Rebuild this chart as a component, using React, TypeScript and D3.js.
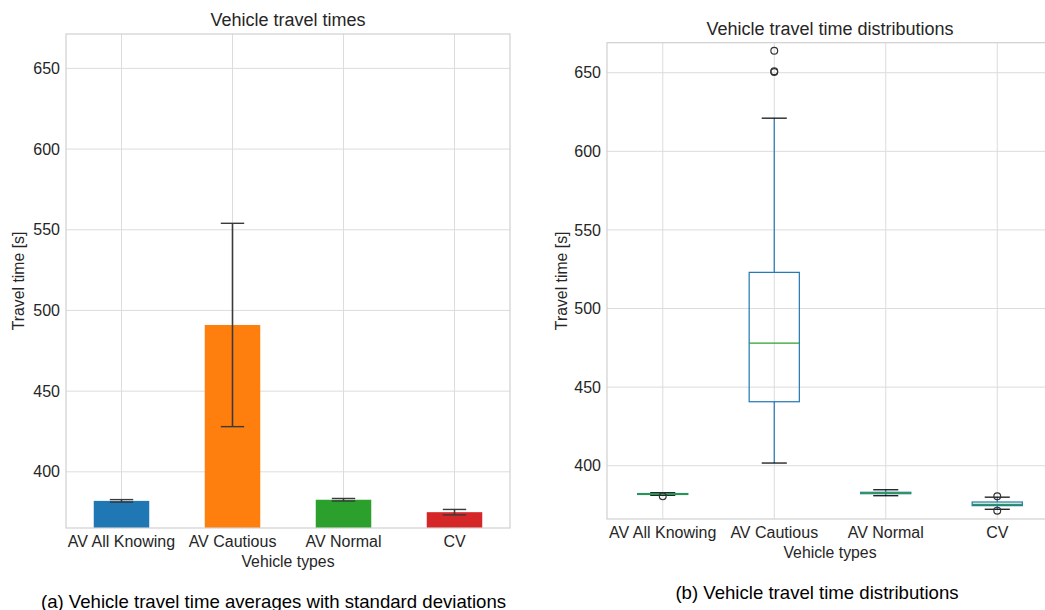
import React from 'react';
import * as d3 from 'd3';

// categories and values
const categories = ['AV All Knowing', 'AV Cautious', 'AV Normal', 'CV'];
const meanTimes = [382.0, 491.0, 382.7, 375.0];
const stdTimes = [0.8, 63.0, 0.8, 1.7];

// box plot summaries per category
const whiskerLow = [381.2, 401.7, 380.9, 372.3];
const q1 = [381.7, 440.7, 382.2, 374.6];
const medians = [382.0, 478.0, 382.6, 375.4];
const q3 = [382.3, 523.0, 383.1, 376.9];
const whiskerHigh = [382.8, 621.1, 384.7, 380.0];
const flierCat = [0, 1, 1, 1, 3, 3];
const flierVal = [380.5, 650.5, 651.0, 664.0, 380.6, 371.4];

const yTicks = [400, 450, 500, 550, 600, 650];
const barColors = ['#1f77b4', '#ff7f0e', '#2ca02c', '#d62728'];

const FONT = '"Liberation Sans", Arial, sans-serif';
const TXT = '#262626';
const GRID = '#dcdcdc';
const TICK_FS = 16;

function Frame({ x, y, left, right, top, bottom, title, tickX }) {
  return (
    <g>
      {yTicks.map(t => (
        <line key={'h' + t} x1={left} x2={right} y1={y(t)} y2={y(t)} stroke={GRID} strokeWidth={1} />
      ))}
      {categories.map(c => (
        <line key={'v' + c} x1={x(c) + x.bandwidth() / 2} x2={x(c) + x.bandwidth() / 2} y1={top} y2={bottom} stroke={GRID} strokeWidth={1} />
      ))}
      <text x={(left + right) / 2} y={top - 8} textAnchor="middle" fontSize={18} fill={TXT} fontFamily={FONT}>{title}</text>
      {yTicks.map(t => (
        <text key={'yl' + t} x={left - 6} y={y(t)} dy="0.35em" textAnchor="end" fontSize={TICK_FS} fill={TXT} fontFamily={FONT}>{t}</text>
      ))}
      {categories.map(c => (
        <text key={'xl' + c} x={x(c) + x.bandwidth() / 2} y={bottom + 18.5} textAnchor="middle" fontSize={TICK_FS} fill={TXT} fontFamily={FONT}>{c}</text>
      ))}
      <text x={tickX} y={bottom + 38.5} textAnchor="middle" fontSize={15.8} fill={TXT} fontFamily={FONT}>Vehicle types</text>
    </g>
  );
}

function BarPanel() {
  const left = 66, right = 510, top = 34, bottom = 528;
  const x = d3.scaleBand().domain(categories).range([left, right]).padding(0);
  const y = d3.scaleLinear().domain([365.2, 671.3]).range([bottom, top]);
  const bw = x.bandwidth() * 0.5;
  const cap = 11.7;
  return (
    <g>
      <Frame x={x} y={y} left={left} right={right} top={top} bottom={bottom} title="Vehicle travel times" tickX={(left + right) / 2} />
      {categories.map((c, i) => {
        const cx = x(c) + x.bandwidth() / 2;
        return (
          <g key={c}>
            <rect x={cx - bw / 2} y={y(meanTimes[i])} width={bw} height={bottom - y(meanTimes[i])} fill={barColors[i]} />
            <line x1={cx} x2={cx} y1={y(meanTimes[i] + stdTimes[i])} y2={y(meanTimes[i] - stdTimes[i])} stroke="#3a3a3a" strokeWidth={1.6} />
            <line x1={cx - cap} x2={cx + cap} y1={y(meanTimes[i] + stdTimes[i])} y2={y(meanTimes[i] + stdTimes[i])} stroke="#3a3a3a" strokeWidth={1.4} />
            <line x1={cx - cap} x2={cx + cap} y1={y(meanTimes[i] - stdTimes[i])} y2={y(meanTimes[i] - stdTimes[i])} stroke="#3a3a3a" strokeWidth={1.4} />
          </g>
        );
      })}
      <rect x={left} y={top} width={right - left} height={bottom - top} fill="none" stroke="#d0d0d0" strokeWidth={1.2} />
      <text transform={`translate(${24},${(top + bottom) / 2}) rotate(-90)`} textAnchor="middle" fontSize={15.8} fill={TXT} fontFamily={FONT}>Travel time [s]</text>
    </g>
  );
}

function BoxPanel() {
  const left = 607, right = 1053, top = 42.7, bottom = 519;
  const x = d3.scaleBand().domain(categories).range([left, right]).padding(0);
  const y = d3.scaleLinear().domain([366.1, 669.1]).range([bottom, top]);
  const bw = x.bandwidth() * 0.45;
  const cap = bw / 4;
  const blue = '#1f77b4';
  return (
    <g>
      <Frame x={x} y={y} left={left} right={right} top={top} bottom={bottom} title="Vehicle travel time distributions" tickX={(left + right) / 2} />
      {categories.map((c, i) => {
        const cx = x(c) + x.bandwidth() / 2;
        return (
          <g key={c}>
            <line x1={cx} x2={cx} y1={y(whiskerLow[i])} y2={y(q1[i])} stroke={blue} strokeWidth={1.2} />
            <line x1={cx} x2={cx} y1={y(q3[i])} y2={y(whiskerHigh[i])} stroke={blue} strokeWidth={1.2} />
            <line x1={cx - cap} x2={cx + cap} y1={y(whiskerLow[i])} y2={y(whiskerLow[i])} stroke="#000" strokeWidth={1.2} />
            <line x1={cx - cap} x2={cx + cap} y1={y(whiskerHigh[i])} y2={y(whiskerHigh[i])} stroke="#000" strokeWidth={1.2} />
            <rect x={cx - bw / 2} y={y(q3[i])} width={bw} height={Math.max(y(q1[i]) - y(q3[i]), 0.5)} fill="none" stroke={blue} strokeWidth={1.2} />
            <line x1={cx - bw / 2} x2={cx + bw / 2} y1={y(medians[i])} y2={y(medians[i])} stroke="#2ca02c" strokeWidth={1.3} />
          </g>
        );
      })}
      {flierVal.map((v, k) => (
        <circle key={k} cx={x(categories[flierCat[k]]) + x.bandwidth() / 2} cy={y(v)} r={3.4} fill="none" stroke="#333" strokeWidth={1.2} />
      ))}
      <rect x={left} y={top} width={right - left} height={bottom - top} fill="none" stroke="#d0d0d0" strokeWidth={1.2} />
      <text transform={`translate(${567},${(top + bottom) / 2}) rotate(-90)`} textAnchor="middle" fontSize={15.8} fill={TXT} fontFamily={FONT}>Travel time [s]</text>
    </g>
  );
}

export default function App() {
  return (
    <svg width={1045} height={610} style={{ position: 'absolute', left: 0, top: 0, background: '#fff' }}>
      <rect width={1045} height={610} fill="#fff" />
      <BarPanel />
      <BoxPanel />
      <text x={273.5} y={607.5} textAnchor="middle" fontSize={18.6} fill="#000" fontFamily={FONT}>(a) Vehicle travel time averages with standard deviations</text>
      <text x={817} y={598.5} textAnchor="middle" fontSize={18.6} fill="#000" fontFamily={FONT}>(b) Vehicle travel time distributions</text>
    </svg>
  );
}
